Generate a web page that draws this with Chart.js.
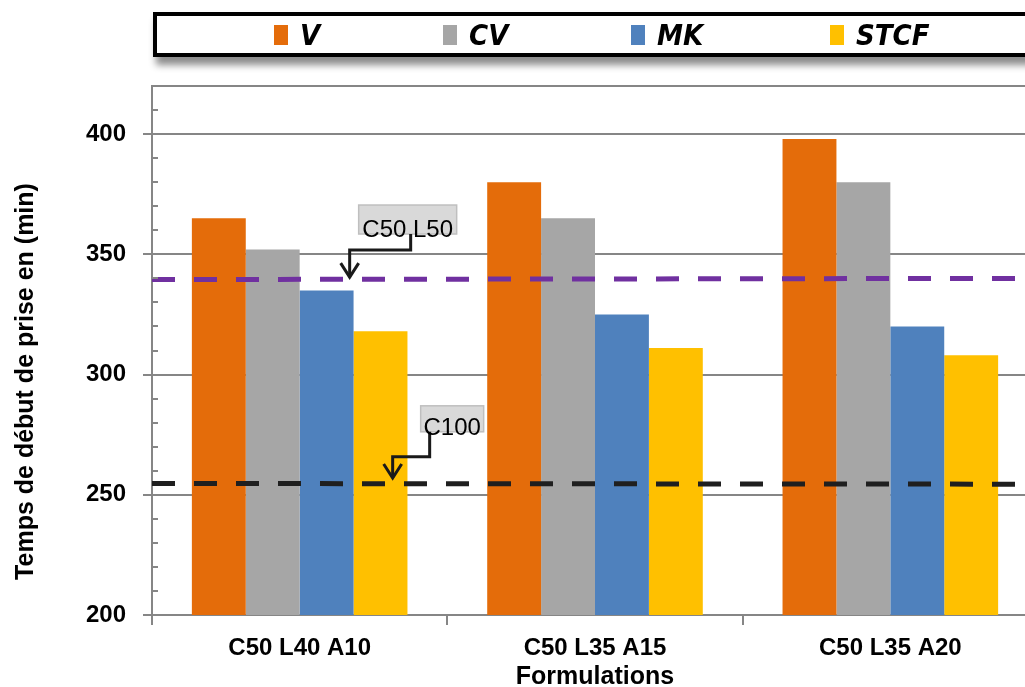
<!DOCTYPE html>
<html>
<head>
<meta charset="utf-8">
<script src="https://cdn.jsdelivr.net/npm/chart.js@4/dist/chart.umd.min.js"></script>
<style>
  html, body { margin: 0; padding: 0; background: #fff; overflow: hidden; }
  #wrap { position: relative; width: 1045px; height: 687px; }
  #chart { position: absolute; left: 0; top: 0; }
  #legend {
    position: absolute; left: 153px; top: 12px; width: 900px; height: 45px;
    box-sizing: border-box; border: 4px solid #000; background: #fff;
    box-shadow: 3px 8px 7px rgba(0,0,0,0.45);
  }
  .item { position: absolute; top: 0; height: 37px; display: flex; align-items: center; }
  .swatch { width: 14px; height: 20px; margin-right: 12px; }
  .label { font-family: 'Liberation Sans Narrow', 'DejaVu Sans Condensed', 'Liberation Sans', sans-serif;
           font-weight: bold; font-style: italic; font-size: 29px; color: #000; }
</style>
</head>
<body>
<div id="wrap">
  <canvas id="chart" width="1045" height="687"></canvas>
  <div id="legend"></div>
</div>
<script>
// data
const categories = ['C50 L40 A10', 'C50 L35 A15', 'C50 L35 A20'];
const seriesNames = ['V', 'CV', 'MK', 'STCF'];
const vValues = [365, 380, 398];
const cvValues = [352, 365, 380];
const mkValues = [335, 325, 320];
const stcfValues = [318, 311, 308];
const c50l50Ref = [339.5, 340];   // left / right end of the dashed line
const c100Ref = [254.7, 254.4];
const yMin = 200, yMax = 420, yStep = 50, yMinorStep = 10;
const callouts = [
  { text: 'C50 L50', cat: 0, boxTop: 370.5, elbow: 351.8, tip: 340.5 },
  { text: 'C100', cat: 0, boxTop: 287, elbow: 265.8, tip: 257 }
];

const colors = ['#e46c0a', '#a6a6a6', '#4f81bd', '#ffc000'];
const seriesValues = [vValues, cvValues, mkValues, stcfValues];
const gridGray = '#868686';

// legend (html, like the boxed legend in the original)
const legendLefts = [274, 443, 631, 830];
const legend = document.getElementById('legend');
seriesNames.forEach((name, i) => {
  const item = document.createElement('div');
  item.className = 'item';
  item.style.left = (legendLefts[i] - 157) + 'px';
  item.innerHTML = `<span class="swatch" style="background:${colors[i]}"></span><span class="label">${name}</span>`;
  legend.appendChild(item);
});

// callout layout in pixels, relative to category centre
const calloutLayout = [
  { boxDx: 59, boxW: 98, boxH: 29, stemDx: 111, tipDx: 50 },
  { boxDx: 121, boxW: 63, boxH: 26, stemDx: 130, tipDx: 93 }
];

const extrasPlugin = {
  id: 'extras',
  afterDatasetsDraw(chart) {
    const ctx = chart.ctx;
    const y = chart.scales.y;
    const x = chart.scales.x;
    const area = chart.chartArea;

    // minor ticks inside the plot
    ctx.save();
    ctx.strokeStyle = gridGray;
    ctx.lineWidth = 2;
    for (let v = yMin + yMinorStep; v < yMax; v += yMinorStep) {
      if (v % yStep === 0) continue;
      const py = Math.round(y.getPixelForValue(v));
      ctx.beginPath();
      ctx.moveTo(area.left, py);
      ctx.lineTo(area.left + 6, py);
      ctx.stroke();
    }
    ctx.restore();

    // callouts
    callouts.forEach((c, i) => {
      const lay = calloutLayout[i];
      const cx = x.getPixelForValue(c.cat);
      const bx = cx + lay.boxDx;
      const by = y.getPixelForValue(c.boxTop);
      ctx.save();
      ctx.fillStyle = '#d9d9d9';
      ctx.strokeStyle = '#bfbfbf';
      ctx.lineWidth = 1.5;
      ctx.fillRect(bx, by, lay.boxW, lay.boxH);
      ctx.strokeRect(bx, by, lay.boxW, lay.boxH);

      const sx = cx + lay.stemDx;
      const ey = y.getPixelForValue(c.elbow);
      const tx = cx + lay.tipDx;
      const ty = y.getPixelForValue(c.tip);
      ctx.strokeStyle = '#1a1a1a';
      ctx.lineWidth = 3;
      ctx.beginPath();
      ctx.moveTo(sx, by + lay.boxH);
      ctx.lineTo(sx, ey);
      ctx.lineTo(tx, ey);
      ctx.lineTo(tx, ty);
      ctx.stroke();
      ctx.beginPath();
      ctx.moveTo(tx - 9, ty - 14);
      ctx.lineTo(tx, ty);
      ctx.lineTo(tx + 9, ty - 14);
      ctx.stroke();

      ctx.fillStyle = '#000';
      ctx.font = '24px "Liberation Sans", sans-serif';
      ctx.textAlign = 'center';
      ctx.textBaseline = 'alphabetic';
      ctx.fillText(c.text, bx + lay.boxW / 2, by + lay.boxH + 3);
      ctx.restore();
    });
  },
  afterDraw(chart) {
    // y title, sits a bit below the middle in the original
    const ctx = chart.ctx;
    const area = chart.chartArea;
    ctx.save();
    ctx.translate(26, (area.top + area.bottom) / 2 + 31);
    ctx.rotate(-Math.PI / 2);
    ctx.fillStyle = '#000';
    ctx.font = 'bold 25px "Liberation Sans", sans-serif';
    ctx.textAlign = 'center';
    ctx.textBaseline = 'middle';
    ctx.fillText('Temps de début de prise en (min)', 0, 0);
    ctx.restore();
  }
};

const barSets = seriesNames.map((name, i) => ({
  type: 'bar',
  label: name,
  indexAxis: 'x',
  data: seriesValues[i],
  backgroundColor: colors[i],
  borderWidth: 0,
  order: 2
}));

const lineSets = [
  { label: 'C50 L50', data: c50l50Ref, color: '#7030a0' },
  { label: 'C100', data: c100Ref, color: '#1f1f1f' }
].map(l => ({
  type: 'line',
  label: l.label,
  indexAxis: 'x',
  xAxisID: 'x2',
  data: [{ x: 0, y: l.data[0] }, { x: 1, y: l.data[1] }],
  borderColor: l.color,
  borderWidth: 5,
  borderDash: [23, 19],
  pointRadius: 0,
  fill: false,
  order: 0
}));

new Chart(document.getElementById('chart').getContext('2d'), {
  type: 'bar',
  data: { labels: categories, datasets: [...barSets, ...lineSets] },
  options: {
    // chart level indexAxis only so the bar grouping ignores the helper x2 axis
    indexAxis: 'y',
    responsive: false,
    animation: false,
    datasets: { bar: { categoryPercentage: 0.73, barPercentage: 1.0 } },
    layout: { padding: { top: 86, right: 7, left: 0, bottom: 0 } },
    plugins: { legend: { display: false }, tooltip: { enabled: false } },
    scales: {
      x: {
        type: 'category',
        axis: 'x',
        position: 'bottom',
        offset: true,
        grid: { offset: true, drawOnChartArea: false, drawTicks: true, tickLength: 10, color: gridGray, lineWidth: 2 },
        border: { display: true, color: gridGray, width: 2 },
        ticks: { color: '#000', font: { family: 'Liberation Sans', size: 24, weight: 'bold' }, padding: 9, maxRotation: 0 },
        title: { display: true, text: 'Formulations', color: '#000', font: { family: 'Liberation Sans', size: 25, weight: 'bold' }, padding: { top: 0, bottom: -5 } },
        afterFit(scale) { scale.height = 72; }
      },
      x2: { type: 'linear', axis: 'x', position: 'bottom', display: false, offset: false, min: 0, max: 1 },
      y: {
        type: 'linear',
        axis: 'y',
        position: 'left',
        offset: false,
        min: yMin, max: yMax,
        ticks: {
          stepSize: yStep,
          color: '#000',
          padding: 17,
          font: { family: 'Liberation Sans', size: 24, weight: 'bold' },
          callback: v => (v % yStep === 0 ? v : '')
        },
        grid: {
          offset: false,
          color: gridGray, lineWidth: 2, tickLength: 9,
          tickColor: c => (c.tick && c.tick.value % yStep === 0 ? gridGray : 'rgba(0,0,0,0)')
        },
        border: { display: true, color: gridGray, width: 2 },
        afterFit(scale) { scale.width = 152; }
      }
    }
  },
  plugins: [extrasPlugin]
});
</script>
</body>
</html>
